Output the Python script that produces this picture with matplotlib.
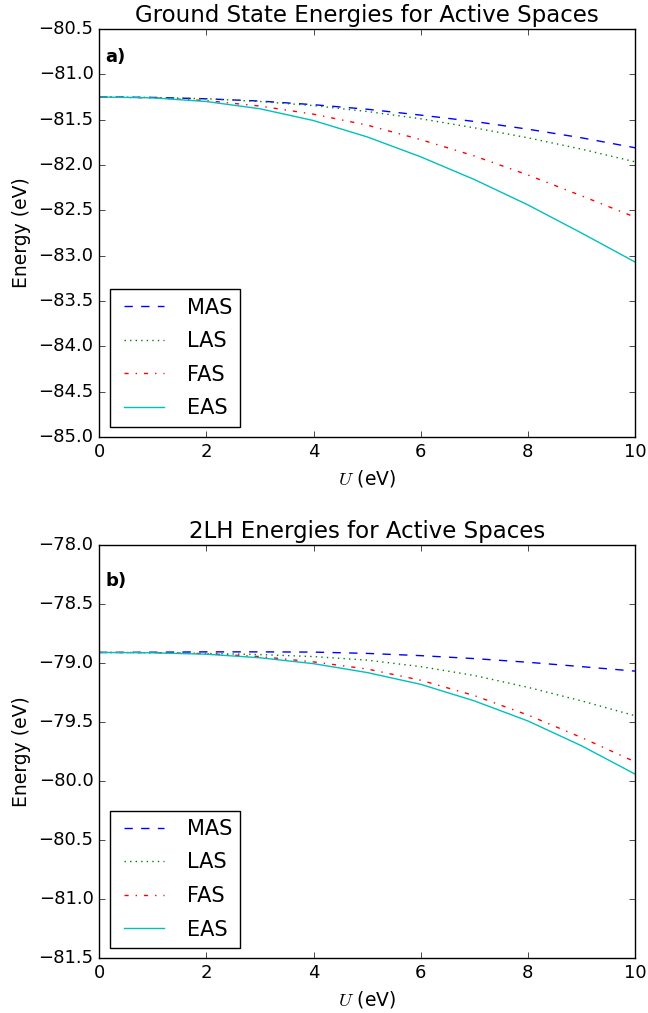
import numpy as np
import matplotlib
matplotlib.use("Agg")
import matplotlib.pyplot as plt

plt.style.use('classic')

# Hubbard U values (eV)
U = [0, 1, 2, 3, 4, 5, 6, 7, 8, 9, 10]

# ground state energies (eV)
gs_mas = [-81.25, -81.255, -81.27, -81.295, -81.335, -81.385, -81.45, -81.52, -81.605, -81.70, -81.81]
gs_las = [-81.25, -81.255, -81.27, -81.30, -81.345, -81.41, -81.49, -81.59, -81.70, -81.825, -81.965]
gs_fas = [-81.25, -81.26, -81.29, -81.35, -81.44, -81.56, -81.72, -81.90, -82.11, -82.34, -82.575]
gs_eas = [-81.25, -81.26, -81.30, -81.38, -81.51, -81.69, -81.91, -82.16, -82.44, -82.75, -83.07]

# 2LH energies (eV)
lh_mas = [-78.91, -78.908, -78.905, -78.905, -78.907, -78.918, -78.937, -78.962, -78.993, -79.03, -79.068]
lh_las = [-78.91, -78.912, -78.918, -78.928, -78.945, -78.975, -79.03, -79.105, -79.205, -79.32, -79.446]
lh_fas = [-78.91, -78.912, -78.92, -78.945, -78.99, -79.05, -79.145, -79.275, -79.44, -79.63, -79.836]
lh_eas = [-78.91, -78.913, -78.925, -78.955, -79.005, -79.08, -79.18, -79.32, -79.49, -79.70, -79.94]

labels = ['MAS', 'LAS', 'FAS', 'EAS']
styles = ['b--', 'g:', 'r-.', 'c-']

fig = plt.figure(figsize=(6.48, 10.13), dpi=100, facecolor='white')
ax1 = fig.add_axes([0.153, 0.5686, 0.827, 0.4028])
ax2 = fig.add_axes([0.153, 0.054, 0.827, 0.408])

panels = [
    (ax1, [gs_mas, gs_las, gs_fas, gs_eas], 'Ground State Energies for Active Spaces', 'a)', 0.918, (-85.0, -80.5)),
    (ax2, [lh_mas, lh_las, lh_fas, lh_eas], '2LH Energies for Active Spaces', 'b)', 0.90, (-81.5, -78.0)),
]

for ax, series, title, tag, tag_y, ylim in panels:
    for y, st, lab in zip(series, styles, labels):
        ax.plot(U, y, st, label=lab)
    ax.set_xlim(0, 10)
    ax.set_ylim(*ylim)
    ax.set_xticks(np.arange(0, 11, 2))
    ax.set_yticks(np.arange(ylim[0], ylim[1] + 0.01, 0.5))
    ax.tick_params(labelsize=13)
    ax.set_title(title, fontsize=16.5)
    ax.set_xlabel(r'$U$ (eV)', fontsize=13.5)
    ax.set_ylabel('Energy (eV)', fontsize=13.5)
    ax.text(0.012, tag_y, tag, transform=ax.transAxes, fontsize=13, fontweight='bold')
    ax.legend(loc='lower left', fontsize=15, handlelength=2.5, labelspacing=0.65)

fig.savefig('out.png', dpi=100, facecolor='white')
